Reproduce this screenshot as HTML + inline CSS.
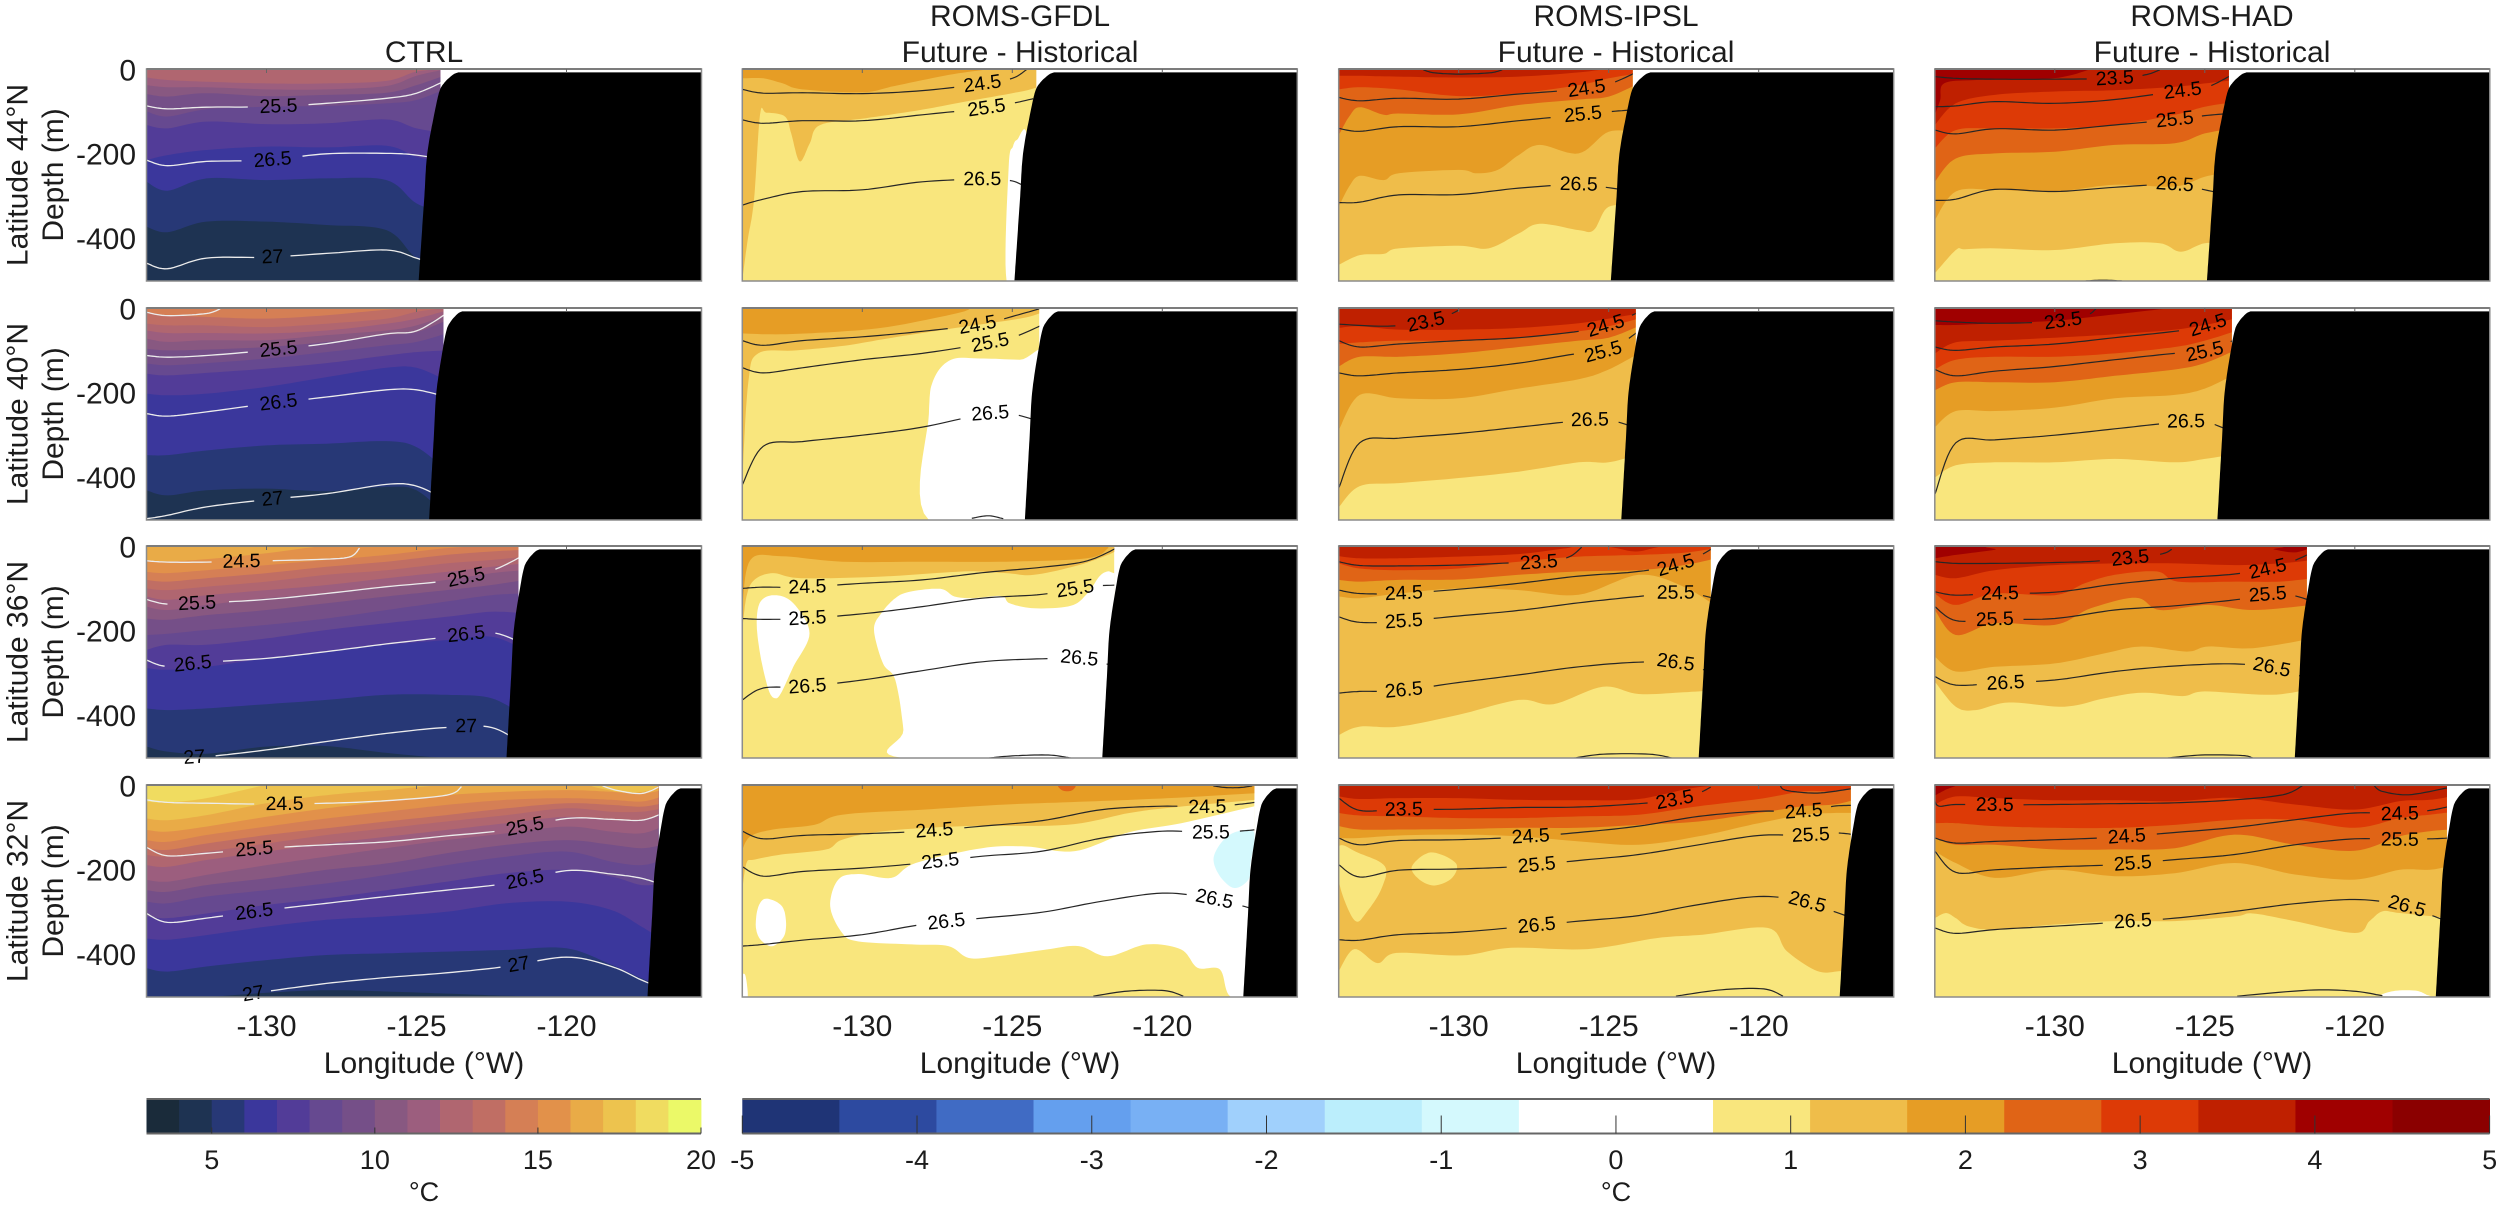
<!DOCTYPE html>
<html lang="en">
<head>
<meta charset="utf-8">
<title>Ocean temperature sections</title>
<style>
html,body{margin:0;padding:0;background:#fff;}
svg{display:block;}
text{font-family:"Liberation Sans",sans-serif;fill:#1c1c1c;}
</style>
</head>
<body>
<svg id="fig" xmlns="http://www.w3.org/2000/svg" width="2500" height="1208" viewBox="0 0 2500 1208">
<defs id="defs"></defs>
<rect x="0" y="0" width="2500" height="1208" fill="#ffffff"/>
<g id="panels"></g>
<g id="colorbars"></g>
<g font-size="30" text-anchor="middle">
<text x="424" y="62">CTRL</text>
<text x="1020" y="26">ROMS-GFDL</text>
<text x="1020" y="62">Future - Historical</text>
<text x="1616" y="26">ROMS-IPSL</text>
<text x="1616" y="62">Future - Historical</text>
<text x="2212" y="26">ROMS-HAD</text>
<text x="2212" y="62">Future - Historical</text>
</g>
<g font-size="30" text-anchor="middle">
<text transform="translate(27.5,175) rotate(-90)">Latitude 44°N</text>
<text transform="translate(63,175) rotate(-90)">Depth (m)</text>
<text transform="translate(27.5,414) rotate(-90)">Latitude 40°N</text>
<text transform="translate(63,414) rotate(-90)">Depth (m)</text>
<text transform="translate(27.5,652) rotate(-90)">Latitude 36°N</text>
<text transform="translate(63,652) rotate(-90)">Depth (m)</text>
<text transform="translate(27.5,891) rotate(-90)">Latitude 32°N</text>
<text transform="translate(63,891) rotate(-90)">Depth (m)</text>
</g>
<g font-size="30" text-anchor="middle">
<text x="424" y="1073">Longitude (°W)</text>
<text x="1020" y="1073">Longitude (°W)</text>
<text x="1616" y="1073">Longitude (°W)</text>
<text x="2212" y="1073">Longitude (°W)</text>
</g>
<g font-size="27" text-anchor="middle">
<text x="424" y="1201">°C</text>
<text x="1616" y="1201">°C</text>
</g>
</svg>
<script>
/* ---------- axes ---------- */
const lonTicks=[-130,-125,-120];
const lonTickLabels=["-130","-125","-120"];
const depthTicks=[0,200,400];
const depthTickLabels=["0","-200","-400"];
const coastBottomLon=[-124.93,-124.58,-122.0,-117.3];
const dataEndLon=[-124.2,-124.1,-121.6,-116.93];
const coastDepth=[500,400,300,200,100,50,30,20,12,8];
const coastOffset=[0,.08,.16,.24,.45,.59,.74,.86,.98,1.1];
const coastStretch=[1.2,1,1,1];

/* ---------- colour scales ---------- */
const ctrlColors=["#1a2b3a","#1e3352","#273876","#3b379c","#523c98","#664990","#754f88","#885881","#9c5e7e","#b06670","#c06e64","#d57f55","#e2914a","#e9ab47","#edc34e","#f0dc60","#ebf968"];
const diffColors=["#1f3476","#2d4aa0","#406bc4","#649fee","#78b0f4","#a0d0fc","#bbeefc","#d4f9fd","#ffffff","#ffffff","#f9e67d","#efbd4a","#e69d25","#e06416","#dd3a06","#bf2000","#a00000","#8b0000"];
const ctrlBarRange=[3,20];
const diffBarRange=[-5,5];
const ctrlBarTicks=[5,10,15,20];
const diffBarTicks=[-5,-4,-3,-2,-1,0,1,2,3,4,5];

/* ---------- longitude grids ---------- */
const lon44=[-134,-133.3,-132,-130,-128,-126,-125,-124];
const lon36=[-134,-133.3,-132,-130,-128,-126,-124,-122.5,-121.4];
const lon32=[-134,-133.3,-132,-130,-128,-126,-124,-122,-120,-118.5,-117.5,-116.8];

/* ---------- CTRL ---------- */
const ctrl44Bands=[
[2,lon44,[372,385,360,360,368,380,446,466]],
[3,lon44,[266,287,258,262,258,262,317,340]],
[4,lon44,[215,203,191,183,185,181,207,222]],
[5,lon44,[132,140,124,130,128,119,140,152]],
[6,lon44,[100,112,95,89,87,81,73,46]],
[7,lon44,[59,65,57,64,61,56,38,14]],
[8,lon44,[38,43,43,48,48,40,16,0]],
[9,lon44,[20,26,30,34,34,28,6,0]]];
const ctrl44Patches=[];
const ctrl44Lines=[
["25.5",lon44,[87,94,90,89,81,69,57,26],[-129.6]],
["26.5",lon44,[215,228,218,215,200,199,203,215],[-129.8]],
["27",lon44,[458,471,446,444,435,427,446,470],[-129.86]]];

const ctrl40Bands=[
[2,lon44,[430,442,430,426,432,422,430,490]],
[3,lon44,[347,347,336,324,320,314,328,383]],
[4,lon44,[202,206,202,186,163,141,141,171]],
[5,lon44,[155,159,153,143,130,112,104,100]],
[6,lon44,[131,135,130,119,104,88,80,60]],
[7,lon44,[96,100,98,92,80,64,57,29]],
[8,lon44,[72,80,76,76,64,53,41,17]],
[9,lon44,[53,59,59,60,53,37,25,6]],
[10,lon44,[37,41,41,45,37,25,9,0]],
[11,lon44,[9,17,21,25,17,4,0,0]]];
const ctrl40Patches=[];
const ctrl40Lines=[
["",[-134,-133.3,-132,-131.5],[10,18,13,0],[]],
["25.5",lon44,[112,116,112,100,84,61,54,13],[-129.55]],
["26.5",lon44,[249,255,245,226,210,193,193,210],[-129.68]],
["27",lon44,[497,489,469,452,438,416,420,454],[-129.84]]];

const ctrl36Bands=[
[2,lon36,[473,485,490,473,472,488,500,500,500]],
[3,lon36,[383,387,383,373,363,351,351,359,402]],
[4,lon36,[288,292,285,265,249,233,222,214,245]],
[5,lon36,[245,233,233,218,198,182,167,155,159]],
[6,lon36,[210,207,198,186,171,151,131,116,112]],
[7,lon36,[171,174,163,151,135,119,104,92,80]],
[8,lon36,[143,151,139,123,112,96,80,64,57]],
[9,lon36,[119,127,116,104,92,76,61,49,41]],
[10,lon36,[100,104,96,84,68,57,41,33,25]],
[11,lon36,[80,84,76,64,49,37,21,13,9]],
[12,lon36,[61,64,57,45,33,21,5,0,0]],
[13,lon36,[33,36,31,17,0,0,0,0,0]]];
const ctrl36Patches=[];
const ctrl36Lines=[
["24.5",[-134,-133.3,-132,-130,-128,-127.2,-126.9],[35,38,38,35,31,25,5],[-130.73]],
["25.5",lon36,[126,137,134,126,112,96,82,58,21],[-132.34,-123.33]],
["26.5",lon36,[269,284,274,265,249,231,215,204,232],[-132.42,-123.36]],
["27",[-132.5,-132,-130,-128,-126,-124,-122.5,-121.4],[498,497,481,461,442,428,428,470],[-132.42,-123.33]]];

const ctrl32Bands=[
[2,lon32,[500,500,500,490,484,487,492,497,500,500,500,500]],
[3,lon32,[432,440,428,413,401,397,393,389,385,424,456,476]],
[4,lon32,[362,365,354,334,318,310,299,279,275,295,334,365]],
[5,lon32,[310,314,303,283,267,248,228,208,200,216,236,232]],
[6,lon32,[275,279,263,248,232,212,189,169,157,181,189,177]],
[7,lon32,[248,252,236,220,200,185,161,141,130,141,149,141]],
[8,lon32,[224,228,212,189,169,149,130,114,98,110,114,98]],
[9,lon32,[189,193,177,157,138,122,106,90,75,83,83,67]],
[10,lon32,[165,169,157,138,118,102,86,71,55,63,63,55]],
[11,lon32,[149,153,138,118,102,86,71,55,43,47,51,43]],
[12,lon32,[130,134,118,98,79,63,47,35,31,35,39,27]],
[13,lon32,[106,110,98,75,55,39,24,16,12,16,20,12]],
[14,lon32,[79,83,71,43,24,12,0,0,0,0,0,0]],
[15,[-134,-133.3,-132,-130,-129.5],[39,41,31,0,0]]];
const ctrl32Patches=[
[14,[-119.1,-118.6,-118,-117.3,-116.9,-116.9],[0,12,18,14,0,0]]];
const ctrl32Lines=[
["24.5",[-134,-133.3,-132,-130,-128,-126,-124,-123.5],[35,41,43,45,43,37,24,4],[-129.31]],
["",[-118.8,-118.3,-117.5,-116.9],[2,13,20,4],[]],
["25.5",lon32,[147,167,161,149,141,134,120,106,79,81,83,67],[-130.47,-121.42]],
["26.5",lon32,[303,324,314,295,279,263,248,232,202,210,220,236],[-130.43,-121.42]],
["27",[-130.8,-130,-128,-126,-124,-122,-120,-118.5,-117.5,-116.8],[497,487,468,454,443,428,406,428,460,480],[-130.47,-121.5]]];

/* ---------- ROMS-GFDL ---------- */
const gfdl44Bands=[
[11,[-134,-133.82,-133.61,-133.41,-133.2,-132.58,-132.37,-132.09,-131.75,-131.4,-129.88,-128.09,-126.57,-124.5,-123.95],[497,403,309,108,103,112,152,218,175,132,116,97,77,50,34]],
[12,[-134,-133.3,-132.65,-132,-130,-128.92,-127.12,-125.74],[22,22,34,48,55,40,14,0]]];
const gfdl44Patches=[
[8,[-125.19,-125.12,-124.98,-124.84,-124.5,-124.5],[500,230,183,167,167,500]]];
const gfdl44Lines=[
["24.5",[-134,-133.3,-132,-130,-128,-126,-125,-124.5],[48,57,56,58,51,35,22,0],[-126.02]],
["25.5",[-134,-133.3,-132,-130,-128,-126,-125,-124.3],[120,128,122,122,108,93,81,70],[-125.85]],
["26.5",[-134,-133.3,-132,-130,-128,-126,-125,-124.4],[321,307,289,285,266,260,264,285],[-126.02]]];

const gfdl40Bands=[
[11,[-134,-133.8,-133.47,-132.2,-130.6,-129,-126.88,-124.75,-124.1],[400,175,107,100,89,70,47,25,13]],
[12,[-134,-132.72,-130.6,-129,-126.88,-126.35],[60,62,55,43,13,0]]];
const gfdl40Patches=[
[8,[-127.78,-127.78,-127.62,-127.04,-126.08,-124.75,-123.7,-123.7],[500,250,168,122,119,122,122,500]]];
const gfdl40Lines=[
["24.5",lon44,[77,88,77,68,55,38,20,0],[-126.15]],
["25.5",lon44,[141,153,141,122,107,85,70,40],[-125.7]],
["26.5",lon44,[417,326,315,300,281,251,250,270],[-125.7]],
["",[-126.35,-125.8,-125.3],[496,490,497],[]]];

const gfdl36Bands=[
[11,[-134,-133.86,-133.6,-132.98,-132.03,-129.3,-126.6,-125.2,-124.27,-122.78,-121.82,-121.5],[198,119,80,64,76,72,60,64,68,45,21,10]],
[12,[-134,-133.73,-132.7,-130.67,-127.95,-125.2,-122.5,-121.8],[143,33,24,37,37,37,29,5]]];
const gfdl36Patches=[
[8,[-133.52,-133.39,-132.91,-132.3,-131.76,-132.3,-132.71,-132.91,-133.12,-133.39],[182,131,116,135,206,285,347,359,340,261]],
[8,[-128.65,-128.63,-128.9,-129.31,-129.61,-129.37,-128.9,-128.42,-127.4,-126.93,-126.31,-125.36,-125.09,-124.27,-123.05,-122.5,-122.1,-121.82,-121.6,-121.2,-121.2],[500,434,316,277,198,159,123,108,101,119,123,118,135,147,141,112,72,60,64,64,500]]];
const gfdl36Lines=[
["24.5",lon36,[100,97,97,88,80,63,50,35,0],[-131.86]],
["25.5",lon36,[171,173,171,160,143,123,114,96,92],[-131.89,-122.84]],
["26.5",lon36,[363,335,332,316,294,273,266,266,290],[-131.8,-122.82]],
["",[-125.77,-125,-123.8,-123.05],[500,495,493,500],[]]];

const gfdl32Bands=[
[11,[-134,-133.86,-133.6,-132.7,-131.2,-130.67,-129.3,-126.6,-123.2,-121.1,-119.8,-116.9],[247,184,176,164,152,129,109,97,94,66,54,35]],
[12,[-134,-133.73,-132.98,-131.6,-130.67,-127.95,-125.2,-122.5,-119.8,-116.8],[152,121,105,94,70,58,46,39,31,19]]];
const gfdl32Patches=[
[8,[-116.91,-119.37,-121.14,-122.91,-124.54,-126.01,-128.22,-129.03,-130.12,-130.8,-131.07,-130.67,-130.12,-128.35,-127.13,-126.45,-125.5,-123.86,-122.78,-121.82,-120.53,-119.37,-118.83,-118.08,-117.74,-116.8,-116.8],[50,90,112,156,145,149,184,219,210,223,286,349,369,376,380,408,404,388,380,404,376,388,431,435,498,498,50]],
[8,[-133.18,-132.64,-132.57,-132.98,-133.39,-133.55,-133.46],[268,290,349,380,365,333,286]],
[8,[-134,-133.89,-133.82,-134],[451,451,500,500]],
[7,[-118.29,-117.95,-117.47,-116.93,-117.06,-117.13,-117.6,-118.08],[172,129,109,113,184,223,243,215]],
[13,[-123.46,-122.91,-123.02,-123.32],[0,0,13,13]]];
const gfdl32Lines=[
["24.5",lon32,[109,127,119,115,109,97,84,58,50,52,46,40],[-127.51,-118.46]],
["25.5",lon32,[193,215,204,196,184,168,156,125,109,112,109,105],[-127.4,-118.38]],
["26.5",lon32,[380,376,366,353,329,314,300,274,255,266,282,296],[-127.2,-118.26]],
["",[-122.3,-121.14,-119.92,-119.3],[498,486,485,498],[]],
["",[-118.3,-117.9,-117.4,-117],[2,6,6,2],[]]];

/* ---------- ROMS-IPSL ---------- */
const ipsl44Bands=[
[11,[-134,-133.3,-132.5,-132,-130,-129,-128,-127.3,-126,-125.5,-125,-124],[462,439,436,423,417,423,388,365,380,380,325,325]],
[12,[-134,-133.65,-133.3,-132.5,-132,-130,-129.4,-128.7,-128,-127.3,-126,-125,-124],[325,277,252,262,246,238,246,238,203,179,199,148,150]],
[13,[-134,-133.65,-133.3,-132.5,-132,-130,-128,-126,-125,-124],[156,112,90,108,105,107,85,72,65,34]],
[14,lon44,[48,43,48,64,57,38,22,10]],
[15,lon44,[16,16,18,20,18,8,0,0]]];
const ipsl44Patches=[];
const ipsl44Lines=[
["",[-131.18,-130.81,-130,-128.97,-128.55],[2,9,12,9,2],[]],
["24.5",lon44,[67,75,69,71,59,48,36,5],[-125.74]],
["25.5",lon44,[140,147,136,136,122,108,101,95],[-125.91]],
["26.5",lon44,[315,314,297,296,281,272,280,290],[-125.99]]];

const ipsl40Bands=[
[11,lon44,[470,420,413,401,386,364,364,345]],
[12,lon44,[288,205,213,213,190,168,145,107]],
[13,lon44,[138,115,115,107,92,77,70,43]],
[14,lon44,[85,81,77,77,70,55,43,25]],
[15,lon44,[47,43,51,51,47,36,25,13]]];
const ipsl40Patches=[];
const ipsl40Lines=[
["23.5",[-134,-132.5,-131.3,-130.4,-130],[38,43,36,18,5],[-131.05]],
["24.5",lon44,[77,92,85,77,70,55,40,10],[-125.1]],
["25.5",lon44,[153,160,153,145,130,107,100,55],[-125.15]],
["26.5",lon44,[425,318,307,296,281,266,264,285],[-125.66]]];

const ipsl36Bands=[
[11,[-134,-133.3,-132,-130,-128,-126.85,-125.2,-124,-122.5,-121.4],[446,426,426,398,363,373,332,349,345,340]],
[12,lon36,[119,123,112,100,104,115,68,96,143]],
[13,lon36,[80,84,80,79,68,60,57,45,29]],
[14,lon36,[41,53,57,53,37,25,21,16,5]],
[15,[-134,-133.3,-132,-130,-128,-126.5,-126,-125,-124.1,-123.3,-122.5,-121.4],[24,29,29,25,19,6,1,2,13,2,0,0]]];
const ipsl36Patches=[];
const ipsl36Lines=[
["23.5",[-134,-133.3,-132,-130,-128,-127,-126.3,-125.9],[37,46,47,45,39,37,25,3],[-127.33]],
["24.5",lon36,[104,112,112,102,88,71,60,40,0],[-131.82,-122.79]],
["25.5",lon36,[167,180,178,165,152,134,119,110,125],[-131.9,-122.83]],
["26.5",lon36,[347,343,341,322,304,285,274,277,305],[-131.76,-122.8]],
["",[-126.14,-125.18,-123.65,-122.89],[500,491,491,500],[]]];

const ipsl32Bands=[
[11,[-134,-133.48,-132.71,-132.07,-129.9,-128.25,-125.7,-123.4,-121.87,-119.7,-119.06,-118.04,-117.28,-116.8],[439,387,420,396,402,384,387,361,353,337,392,439,439,439]],
[12,lon32,[125,125,119,117,121,133,141,121,90,70,66,66]],
[13,lon32,[97,105,105,104,101,101,94,86,66,50,46,35]],
[14,lon32,[66,72,74,78,78,74,70,50,33,15,15,7]],
[15,lon32,[27,33,31,31,35,36,33,5,0,0,0,0]]];
const ipsl32Patches=[
[10,[-134,-133.35,-132.46,-132.59,-133.09,-133.41,-133.73,-134],[145,160,192,247,302,322,286,223]],
[10,[-131.56,-130.93,-130.1,-130.22,-130.8,-131.31],[192,159,184,219,237,223]]];
const ipsl32Lines=[
["23.5",[-134,-133.3,-132,-130,-128,-126,-124,-122.8,-122,-121.6],[31,60,58,57,53,52,44,35,19,5],[-131.91,-122.8]],
["",[-119.28,-119.06,-118.04,-116.93],[2,13,19,9],[]],
["24.5",lon32,[125,141,131,129,123,112,97,74,62,62,50,48],[-127.5,-118.45]],
["25.5",lon32,[188,217,201,198,192,178,164,141,119,119,113,117],[-127.35,-118.32]],
["26.5",lon32,[365,366,353,347,335,321,308,282,263,274,298,316],[-127.33,-118.36]],
["",[-122.76,-121.23,-119.83,-119.19],[498,483,481,498],[]]];

/* ---------- ROMS-HAD ---------- */
const had44Bands=[
[11,[-134,-133.3,-133,-132,-130,-128,-126.5,-125.8,-125,-124],[482,427,425,423,427,411,411,431,411,411]],
[12,lon44,[356,289,285,289,273,277,254,240]],
[13,lon44,[266,211,199,195,179,175,152,140]],
[14,lon44,[187,144,140,140,132,108,89,78]],
[15,lon44,[132,81,61,53,50,42,34,26]],
[16,[-134,-133.82,-133.69,-132.61,-130.06,-128.78],[108,73,34,26,22,0]]];
const had44Patches=[];
const had44Lines=[
["23.5",[-134,-133.3,-132,-130,-128,-127,-126.5],[18,22,24,24,22,14,2],[-127.95]],
["24.5",lon44,[89,87,77,81,72,53,45,10],[-125.72]],
["25.5",lon44,[144,153,141,144,132,119,110,104],[-125.95]],
["26.5",lon44,[310,307,284,289,279,272,285,300],[-125.95]],
["",[-128.97,-128.4,-127.76],[500,498,500],[]]];

const had40Bands=[
[11,lon44,[400,371,364,364,356,364,356,345]],
[12,lon44,[281,243,243,235,213,205,190,156]],
[13,lon44,[194,175,175,175,160,145,130,100]],
[14,lon44,[145,122,115,115,107,92,77,55]],
[15,lon44,[107,81,77,70,62,51,40,25]],
[16,lon44,[40,40,36,30,15,0,0,0]]];
const had40Patches=[];
const had40Lines=[
["23.5",[-134,-133.3,-132,-130,-129,-128.6],[30,33,36,32,20,0],[-129.7]],
["24.5",lon44,[92,100,92,85,70,55,43,13],[-124.9]],
["25.5",lon44,[145,160,149,138,122,107,103,75],[-125]],
["26.5",lon44,[440,318,311,300,285,270,268,295],[-125.6]]];

const had36Bands=[
[11,[-134,-133.3,-132.64,-131.53,-129.68,-128.33,-127.1,-125.74,-125,-122.78,-121.4],[320,379,387,369,379,359,346,354,343,351,336]],
[12,[-134,-133.3,-132,-130,-128.33,-127.1,-125.6,-124.88,-123.4,-121.4],[261,296,285,277,253,237,249,237,241,218]],
[13,[-134,-133.3,-132,-130,-128.8,-127.3,-126.5,-124.9,-123.4,-121.4],[151,210,182,186,147,122,151,139,151,139]],
[14,[-134,-133.3,-132,-130,-129,-128,-126.6,-125.9,-124,-122.5,-121.4],[112,139,112,116,88,68,60,84,84,84,76]],
[15,lon36,[68,76,57,45,41,41,45,41,33]],
[16,[-134,-133.3,-132,-131.6,-123.1,-122.7,-122,-121.4],[29,21,9,0,0,8,15,3]]];
const had36Patches=[];
const had36Lines=[
["23.5",[-134,-133.3,-132,-130,-128.5,-126.6,-126.1],[37,41,41,39,35,21,8],[-127.59]],
["24.5",lon36,[108,116,112,109,90,76,66,47,15],[-131.9,-122.84]],
["25.5",lon36,[143,176,173,171,151,141,127,112,130],[-131.95,-122.87]],
["26.5",lon36,[308,328,324,316,296,283,278,290,320],[-131.7,-122.75]],
["",[-126.23,-125.12,-123.77,-123.4],[500,493,494,500],[]]];

const had32Bands=[
[11,[-134,-133.63,-133.3,-132.89,-132,-130,-128,-126,-124,-123.4,-122,-120,-119.51,-119.08,-118.5,-116.8],[314,302,314,333,341,329,321,321,310,303,321,349,321,298,302,314]],
[12,lon32,[156,184,219,200,215,208,184,211,223,200,200,190]],
[13,lon32,[125,141,141,152,152,149,117,141,155,121,109,105]],
[14,lon32,[90,90,97,101,101,94,82,82,101,78,70,64]],
[15,lon32,[46,27,31,36,36,38,30,46,58,38,35,27]],
[16,[-134,-133.6,-133.2],[25,10,0]]];
const had32Patches=[
[8,[-119.08,-118.71,-117.97,-117.6,-117.6],[498,486,485,495,498]]];
const had32Lines=[
["23.5",[-134,-133.85,-133.3,-132,-130,-128,-126,-124,-122.4,-121.75],[38,50,46,47,46,44,42,35,23,2],[-131.97]],
["",[-119.35,-119.08,-118.2,-116.93],[2,15,23,7],[]],
["24.5",lon32,[125,137,133,129,123,112,100,82,66,68,60,50],[-127.5,-118.44]],
["25.5",lon32,[156,206,200,193,188,176,164,141,127,129,127,125],[-127.4,-118.44]],
["26.5",lon32,[337,350,341,333,324,314,298,280,270,282,306,325],[-127.3,-118.3]],
["",[-123.92,-121.55,-120.07,-119.08],[498,484,486,497],[]]];

/* ---------- panel lookup ---------- */
const bandTable=[[ctrl44Bands,gfdl44Bands,ipsl44Bands,had44Bands],[ctrl40Bands,gfdl40Bands,ipsl40Bands,had40Bands],[ctrl36Bands,gfdl36Bands,ipsl36Bands,had36Bands],[ctrl32Bands,gfdl32Bands,ipsl32Bands,had32Bands]];
const patchTable=[[ctrl44Patches,gfdl44Patches,ipsl44Patches,had44Patches],[ctrl40Patches,gfdl40Patches,ipsl40Patches,had40Patches],[ctrl36Patches,gfdl36Patches,ipsl36Patches,had36Patches],[ctrl32Patches,gfdl32Patches,ipsl32Patches,had32Patches]];
const lineTable=[[ctrl44Lines,gfdl44Lines,ipsl44Lines,had44Lines],[ctrl40Lines,gfdl40Lines,ipsl40Lines,had40Lines],[ctrl36Lines,gfdl36Lines,ipsl36Lines,had36Lines],[ctrl32Lines,gfdl32Lines,ipsl32Lines,had32Lines]];
const columnNames=["ctrl","gfdl","ipsl","had"];
const rowNames=["44n","40n","36n","32n"];
const deepestIndex=[1,10,10,10];

/* ---------- layout ---------- */
const colLeft=[146.5,742.3,1338.7,1934.8];
const rowTop=[69,308,546,785];
const panelW=555, panelH=212, lonMin=-134, lonMax=-115.5, depthMax=500;
const NS="http://www.w3.org/2000/svg";
const panelsG=document.getElementById("panels");
const defsEl=document.getElementById("defs");
const barsG=document.getElementById("colorbars");

function xOf(col,lon){return colLeft[col]+(lon-lonMin)/(lonMax-lonMin)*panelW;}
function yOf(row,d){return rowTop[row]+d/depthMax*panelH;}
function mk(tag,parent){const e=document.createElementNS(NS,tag);parent.appendChild(e);return e;}
function sampleSpline(pts,closed){
  const n=pts.length,out=[];
  const at=i=>closed?pts[(i+n)%n]:pts[Math.max(0,Math.min(n-1,i))];
  const segs=closed?n:n-1;
  for(let i=0;i<segs;i++){
    const p0=at(i-1),p1=at(i),p2=at(i+1),p3=at(i+2);
    for(let k=0;k<10;k++){
      const t=k/10,t2=t*t,t3=t2*t;
      out.push([
        .5*(2*p1[0]+(p2[0]-p0[0])*t+(2*p0[0]-5*p1[0]+4*p2[0]-p3[0])*t2+(3*p1[0]-p0[0]-3*p2[0]+p3[0])*t3),
        .5*(2*p1[1]+(p2[1]-p0[1])*t+(2*p0[1]-5*p1[1]+4*p2[1]-p3[1])*t2+(3*p1[1]-p0[1]-3*p2[1]+p3[1])*t3)
      ]);
    }
  }
  if(!closed)out.push(pts[n-1]);
  return out;
}
function toD(s){return s.map((p,i)=>(i?"L":"M")+p[0].toFixed(1)+" "+p[1].toFixed(1)).join("");}

function drawPanel(row,col){
  const colors=col===0?ctrlColors:diffColors;
  const lineColor=col===0?"#ececec":"#262626";
  const left=xOf(col,lonMin),top=rowTop[row],endX=xOf(col,dataEndLon[row]);
  const g=mk("g",panelsG);
  
  

  const clip=mk("clipPath",defsEl);
  clip.setAttribute("id","clip-"+row+"-"+col);
  const clipRect=mk("rect",clip);
  clipRect.setAttribute("x",left);
  clipRect.setAttribute("y",top);
  clipRect.setAttribute("width",endX-left);
  clipRect.setAttribute("height",panelH);

  const field=mk("g",g);
  field.setAttribute("clip-path","url(#clip-"+row+"-"+col+")");
  
  

  const base=mk("rect",field);
  base.setAttribute("x",left);
  base.setAttribute("y",top);
  base.setAttribute("width",endX-left);
  base.setAttribute("height",panelH);
  base.setAttribute("fill",colors[deepestIndex[col]]);
  
  

  bandTable[row][col].forEach(b=>{
    const pts=b[1].map((lon,i)=>[xOf(col,lon),yOf(row,b[2][i])]);
    const s=sampleSpline(pts,false);
    const path=mk("path",field);
    path.setAttribute("d","M"+s[0][0].toFixed(1)+" "+(top-2)+"L"+toD(s).slice(1)+"L"+s[s.length-1][0].toFixed(1)+" "+(top-2)+"Z");
    path.setAttribute("fill",colors[b[0]]);
    
    
  });

  patchTable[row][col].forEach(b=>{
    const pts=b[1].map((lon,i)=>[xOf(col,lon),yOf(row,b[2][i])]);
    const s=sampleSpline(pts,true);
    const path=mk("path",field);
    path.setAttribute("d",toD(s)+"Z");
    path.setAttribute("fill",colors[b[0]]);
    
    
  });

  const labelQueue=[];
  lineTable[row][col].forEach(c=>{
    const pts=c[1].map((lon,i)=>[xOf(col,lon),yOf(row,c[2][i])]);
    const s=sampleSpline(pts,false);
    const centres=c[3].map(lon=>{
      const tx=xOf(col,lon);
      let best=0;
      s.forEach((p,i)=>{if(Math.abs(p[0]-tx)<Math.abs(s[best][0]-tx))best=i;});
      let a=best,b2=best;
      while(a>0&&s[best][0]-s[a][0]<22)a--;
      while(b2<s.length-1&&s[b2][0]-s[best][0]<22)b2++;
      let ang=Math.atan2(s[b2][1]-s[a][1],s[b2][0]-s[a][0])*180/Math.PI;
      ang=Math.max(-25,Math.min(25,ang));
      return {x:s[best][0],y:s[best][1],ang:ang};
    });
    const gap=c[0].length<3?17:27;
    let seg=[];
    const flush=()=>{
      if(seg.length>1){
        const path=mk("path",field);
        path.setAttribute("d",toD(seg));
        path.setAttribute("fill","none");
        path.setAttribute("stroke",lineColor);
        path.setAttribute("stroke-width",col===0?"1.3":"1.2");
        
        
      }
      seg=[];
    };
    s.forEach(p=>{
      const hide=centres.some(k=>Math.hypot(p[0]-k.x,p[1]-k.y)<gap);
      if(hide)flush();else seg.push(p);
    });
    flush();
    centres.forEach(k=>labelQueue.push({text:c[0],x:k.x,y:k.y,ang:k.ang}));
  });

  const coastPts=coastDepth.map((d,i)=>[xOf(col,coastBottomLon[row]+coastOffset[i]*coastStretch[row]),yOf(row,d)]);
  const coastS=sampleSpline(coastPts,false);
  const right=left+panelW;
  const land=mk("path",g);
  land.setAttribute("d",toD(coastS)+"L"+right+" "+yOf(row,coastDepth[coastDepth.length-1]).toFixed(1)+"L"+right+" "+yOf(row,depthMax)+"Z");
  land.setAttribute("fill","#000000");
  
  

  labelQueue.forEach(l=>{
    const t=mk("text",g);
    t.textContent=l.text;
    t.setAttribute("font-size","19.5");
    t.setAttribute("text-anchor","middle");
    t.setAttribute("dominant-baseline","central");
    t.setAttribute("style","fill:#000");
    t.setAttribute("transform","translate("+l.x.toFixed(1)+","+l.y.toFixed(1)+") rotate("+l.ang.toFixed(1)+")");
    
    
  });

  const frame=mk("rect",g);
  frame.setAttribute("x",left);
  frame.setAttribute("y",top);
  frame.setAttribute("width",panelW);
  frame.setAttribute("height",panelH);
  frame.setAttribute("fill","none");
  frame.setAttribute("stroke","#8c8c8c");
  frame.setAttribute("stroke-width","1.5");
  
  

  const topEdge=mk("line",g);
  topEdge.setAttribute("x1",left);
  topEdge.setAttribute("x2",left+panelW);
  topEdge.setAttribute("y1",top);
  topEdge.setAttribute("y2",top);
  topEdge.setAttribute("stroke","#7c7c7c");
  topEdge.setAttribute("stroke-width","2");
  
  

  lonTicks.forEach((lon,i)=>{
    const tick=mk("line",g);
    tick.setAttribute("x1",xOf(col,lon));
    tick.setAttribute("x2",xOf(col,lon));
    tick.setAttribute("y1",top);
    tick.setAttribute("y2",top+4);
    tick.setAttribute("stroke","#666666");
    tick.setAttribute("stroke-width","1");
    
    
    if(row===3){
      const t=mk("text",g);
      t.textContent=lonTickLabels[i];
      t.setAttribute("x",xOf(col,lon));
      t.setAttribute("y",1036);
      t.setAttribute("font-size","30");
      t.setAttribute("text-anchor","middle");
      
      
    }
  });

  if(col===0){
    depthTicks.forEach((d,i)=>{
      const t=mk("text",g);
      t.textContent=depthTickLabels[i];
      t.setAttribute("x",136);
      t.setAttribute("y",yOf(row,d)+(d===0?11.5:10.5));
      t.setAttribute("font-size","30");
      t.setAttribute("text-anchor","end");
      
      
    });
  }
}

for(let r=0;r<4;r++){for(let c=0;c<4;c++){drawPanel(r,c);}}

function drawBar(name,colors,range,ticks,left,right,tickLen){
  const top=1099,bottom=1133.5;
  const g=mk("g",barsG);
  
  
  const sx=v=>left+(v-range[0])/(range[1]-range[0])*(right-left);
  const step=(range[1]-range[0])/colors.length;
  colors.forEach((col,i)=>{
    const r=mk("rect",g);
    r.setAttribute("x",sx(range[0]+i*step));
    r.setAttribute("y",top);
    r.setAttribute("width",sx(range[0]+(i+1)*step)-sx(range[0]+i*step)+.4);
    r.setAttribute("height",bottom-top);
    r.setAttribute("fill",col);
    
    
  });
  [top,bottom].forEach(y=>{
    const l=mk("line",g);
    l.setAttribute("x1",left);
    l.setAttribute("x2",right);
    l.setAttribute("y1",y);
    l.setAttribute("y2",y);
    l.setAttribute("stroke","#666666");
    l.setAttribute("stroke-width","2");
    
    
  });
  ticks.forEach(v=>{
    const l=mk("line",g);
    l.setAttribute("x1",sx(v));
    l.setAttribute("x2",sx(v));
    l.setAttribute("y1",bottom);
    l.setAttribute("y2",bottom-tickLen);
    l.setAttribute("stroke","#333333");
    l.setAttribute("stroke-width","1");
    
    
    const t=mk("text",g);
    t.textContent=String(v);
    t.setAttribute("x",sx(v));
    t.setAttribute("y",1169);
    t.setAttribute("font-size","27");
    t.setAttribute("text-anchor","middle");
    
    
  });
}
drawBar("colorbar-ctrl",ctrlColors,ctrlBarRange,ctrlBarTicks,146.5,701,6);
drawBar("colorbar-anomaly",diffColors,diffBarRange,diffBarTicks,742.3,2489.6,18);
</script>
</body>
</html>
